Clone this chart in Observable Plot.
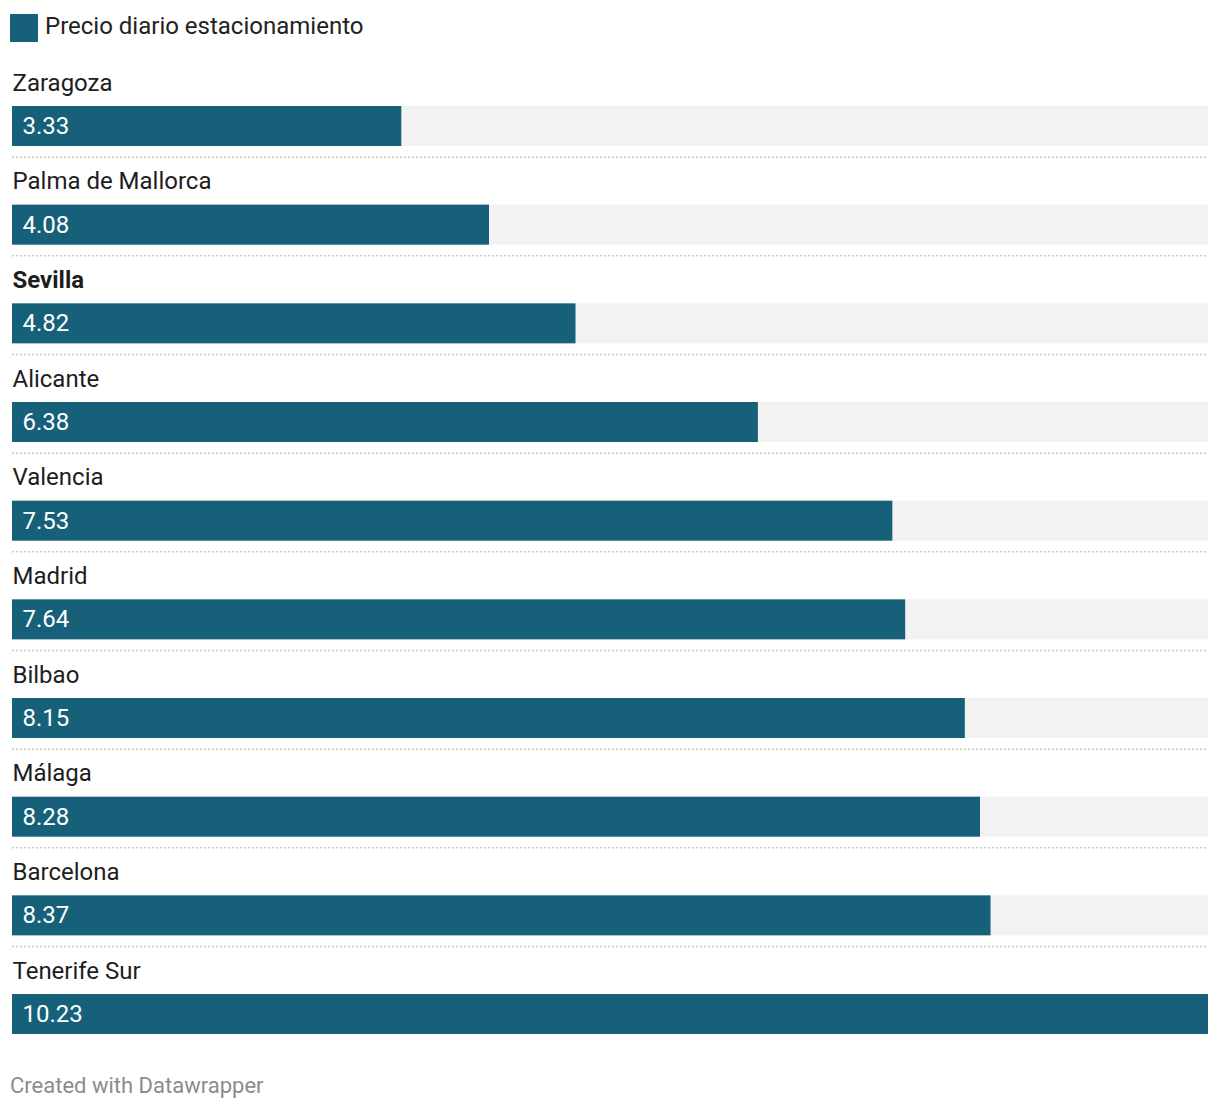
<!DOCTYPE html>
<html>
<head>
<meta charset="utf-8">
<script src="https://cdn.jsdelivr.net/npm/d3@7"></script>
<script src="https://cdn.jsdelivr.net/npm/@observablehq/plot@0.6"></script>
<style>
  html, body { margin: 0; padding: 0; background: #fff; font-family: Roboto, "Noto Sans", sans-serif; }
  #legend { height: 56px; position: relative; }
  #legend .sw { position: absolute; left: 10px; top: 14px; width: 28px; height: 28px; background: #17607a; }
  #legend .lb { position: absolute; left: 45px; top: 10px; font-size: 24px; line-height: 32px; color: #222; }
  #footer { position: relative; height: 60px; }
  #footer span { position: absolute; left: 10px; top: 28px; font-size: 22px; color: #8c8c8c; }
  svg { display: block; }
</style>
</head>
<body>
<div id="legend"><div class="sw"></div><div class="lb">Precio diario estacionamiento</div></div>
<div id="chart"></div>
<div id="footer"><span>Created with Datawrapper</span></div>
<script>
const cities = ["Zaragoza", "Palma de Mallorca", "Sevilla", "Alicante", "Valencia", "Madrid", "Bilbao", "Málaga", "Barcelona", "Tenerife Sur"];
const prices = [3.33, 4.08, 4.82, 6.38, 7.53, 7.64, 8.15, 8.28, 8.37, 10.23];
const boldCities = ["Sevilla"];

const data = cities.map((c, i) => ({city: c, value: prices[i]}));
const maxV = d3.max(prices);

const rowH = 98.67;
const n = cities.length;
const marginTop = 2;
const height = marginTop + rowH * n;

const chart = Plot.plot({
  width: 1220,
  height: height,
  marginLeft: 12,
  marginRight: 12,
  marginTop: marginTop,
  marginBottom: 0,
  x: {domain: [0, maxV], axis: null},
  y: {domain: cities, axis: null, padding: 0, round: false},
  style: {fontFamily: "Roboto, 'Noto Sans', sans-serif"},
  marks: [
    Plot.barX(data, {y: "city", x1: 0, x2: () => maxV, fill: "#f2f2f2", insetTop: 48, insetBottom: 10.67}),
    Plot.barX(data, {y: "city", x: "value", fill: "#17607a", insetTop: 48, insetBottom: 10.67}),
    Plot.tickY(data.slice(0, n - 1), {y: "city", dy: rowH / 2, stroke: "#cccccc", strokeWidth: 1.5, strokeDasharray: "2,2"}),
    Plot.text(data.filter(d => !boldCities.includes(d.city)), {y: "city", x: 0, text: "city", textAnchor: "start", lineAnchor: "bottom", dy: -17.3, dx: 0, fontSize: 24, fill: "#1d1d1d"}),
    Plot.text(data.filter(d => boldCities.includes(d.city)), {y: "city", x: 0, text: "city", textAnchor: "start", lineAnchor: "bottom", dy: -17.3, dx: 0, fontSize: 24, fontWeight: "bold", fill: "#1d1d1d"}),
    Plot.text(data, {y: "city", x: 0, text: d => d.value.toFixed(2), textAnchor: "start", lineAnchor: "bottom", dy: 26, dx: 10, fontSize: 24, fill: "#ffffff"})
  ]
});
document.getElementById("chart").appendChild(chart);
</script>
</body>
</html>
